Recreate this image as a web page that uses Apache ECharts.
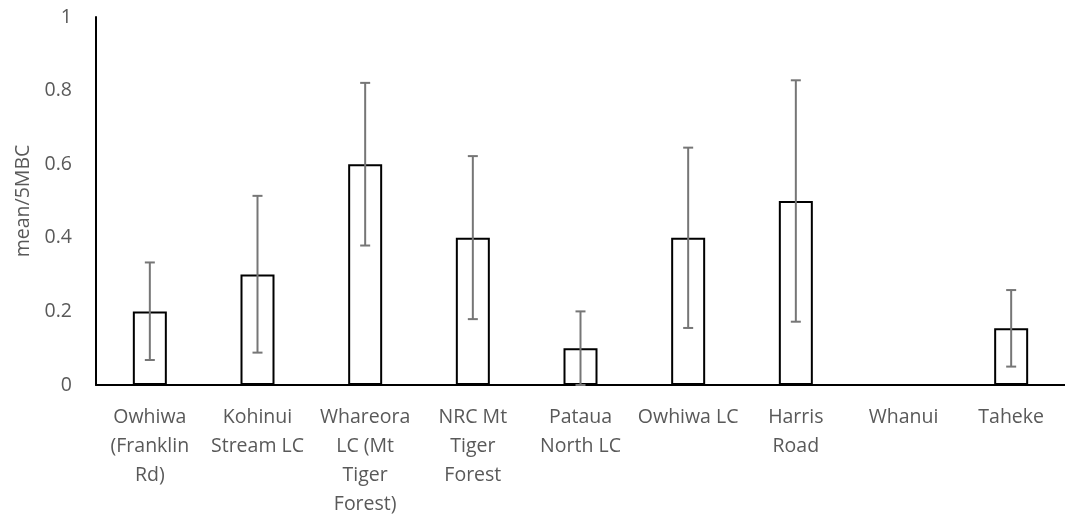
<!DOCTYPE html>
<html>
<head>
<meta charset="utf-8">
<script src="https://cdn.jsdelivr.net/npm/echarts@6/dist/echarts.min.js"></script>
<style>html,body{margin:0;padding:0;background:#fff}#c{width:1065px;height:519px}</style>
</head>
<body>
<div id="c"></div>
<script>
var categories = ["Owhiwa\n(Franklin\nRd)", "Kohinui\nStream LC", "Whareora\nLC (Mt\nTiger\nForest)", "NRC Mt\nTiger\nForest", "Pataua\nNorth LC", "Owhiwa LC", "Harris\nRoad", "Whanui", "Taheke"];
var means = [0.2, 0.3, 0.6, 0.4, 0.1, 0.4, 0.5, 0, 0.154];
var errLow = [0.068, 0.088, 0.379, 0.179, 0.0, 0.155, 0.172, 0, 0.05];
var errHigh = [0.333, 0.514, 0.821, 0.622, 0.2, 0.645, 0.828, 0, 0.258];
var yTicks = [0, 0.2, 0.4, 0.6, 0.8, 1];

var errData = categories.map(function (c, i) { return [i, errLow[i], errHigh[i]]; });
var font = "'Open Sans', 'Liberation Sans', sans-serif";
var chart = echarts.init(document.getElementById('c'));
chart.setOption({
  animation: false,
  grid: { left: 96, top: 17, bottom: 134, right: -9, containLabel: false },
  xAxis: {
    type: 'category', data: categories, boundaryGap: true,
    axisLine: { show: true, lineStyle: { color: '#000', width: 2 } },
    axisTick: { show: false },
    axisLabel: { color: '#595959', fontSize: 19.5, fontFamily: font, lineHeight: 29, margin: 18, interval: 0 }
  },
  yAxis: {
    type: 'value', min: 0, max: 1, interval: 0.2,
    name: 'mean/5MBC', nameLocation: 'middle', nameGap: 62,
    nameTextStyle: { color: '#595959', fontSize: 19.5, fontFamily: font },
    axisLine: { show: true, lineStyle: { color: '#000', width: 2 } },
    axisTick: { show: false },
    splitLine: { show: false },
    axisLabel: { color: '#595959', fontSize: 19.5, fontFamily: font, margin: 24,
      formatter: function (v) { return yTicks.indexOf(v) >= 0 ? String(v) : ''; } }
  },
  series: [
    {
      type: 'bar', data: means, barWidth: 34,
      itemStyle: { color: '#fff', borderColor: '#000', borderWidth: 2 }
    },
    {
      type: 'custom', data: errData, z: 5,
      renderItem: function (params, api) {
        var x = api.value(0);
        var lo = api.coord([x, api.value(1)]);
        var hi = api.coord([x, api.value(2)]);
        if (api.value(2) === 0) return null;
        var hw = 5;
        var st = { stroke: '#767676', lineWidth: 2 };
        return {
          type: 'group', children: [
            { type: 'line', shape: { x1: lo[0], y1: lo[1], x2: hi[0], y2: hi[1] }, style: st },
            { type: 'line', shape: { x1: hi[0] - hw, y1: hi[1], x2: hi[0] + hw, y2: hi[1] }, style: st },
            { type: 'line', shape: { x1: lo[0] - hw, y1: lo[1], x2: lo[0] + hw, y2: lo[1] }, style: st }
          ]
        };
      }
    }
  ]
});
</script>
</body>
</html>
